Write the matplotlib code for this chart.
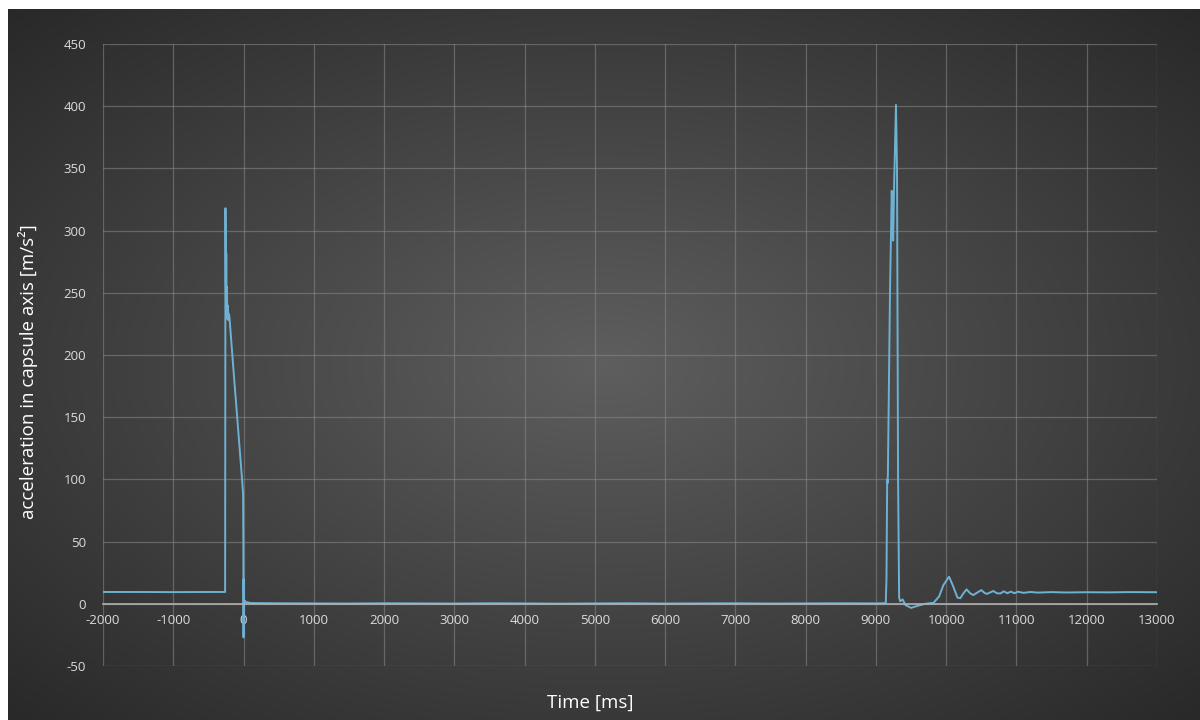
import numpy as np
import matplotlib.pyplot as plt

plt.rcParams['axes.unicode_minus'] = False

# Readings taken off the chart: time [ms] and acceleration [m/s^2]
launch_t = [-2000, -1500, -1000, -500, -262, -257, -253, -249, -246, -243, -240,
            -237, -234, -231, -228, -224, -220, -215, -208, -200, -150, -100,
            -50, -17, -6, -2, 0, 3, 6, 10, 30, 100]
launch_a = [9.5, 9.5, 9.4, 9.5, 9.5, 318, 262, 240, 282, 236, 255,
            233, 246, 229, 240, 231, 236, 228, 233, 230, 193, 157,
            121, 97, 88, 40, -27, 20, -5, 3, 1.5, 0.6]

coast_t = [500, 1000, 1500, 2000, 2500, 3000, 3500, 4000, 4500, 5000, 5500,
           6000, 6500, 7000, 7500, 8000, 8500, 9000, 9140]
coast_a = [0.4, 0.3, 0.2, 0.4, 0.3, 0.2, 0.4, 0.3, 0.1, 0.3, 0.4,
           0.2, 0.3, 0.4, 0.2, 0.3, 0.4, 0.3, 0.5]

landing_t = [9150, 9160, 9165, 9170, 9200, 9225, 9235, 9245, 9260, 9285, 9300,
             9315, 9330, 9345, 9380, 9420, 9500, 9600, 9700, 9820, 9900, 9960,
             10040, 10100, 10160, 10200, 10240, 10290, 10340, 10385, 10440,
             10500, 10540, 10575, 10620, 10670, 10720, 10770, 10820, 10870,
             10920, 10970, 11020, 11100, 11200, 11300, 11500, 11700, 12000,
             12300, 12600, 13000]
landing_a = [20, 100, 97, 104, 250, 332, 310, 292, 340, 401, 350,
             100, 5, 2, 3.5, -1, -3.3, -1.5, 0, 0.8, 6, 15,
             21.8, 14, 5, 4.5, 8, 11.6, 8.5, 7, 9,
             11, 9, 7.9, 9, 10.3, 8.5, 8.3, 10, 8.5,
             9.8, 8.5, 9.7, 8.8, 9.5, 9.0, 9.4, 9.1, 9.3,
             9.2, 9.4, 9.3]

time_ms = np.array(launch_t + coast_t + landing_t)
accel = np.array(launch_a + coast_a + landing_a)

x_ticks = list(range(-2000, 13001, 1000))
y_ticks = list(range(-50, 451, 50))

fig = plt.figure(figsize=(12, 7.2), dpi=100)
fig.patch.set_facecolor('white')

# dark radial gradient background, Excel style
bg = fig.add_axes([8 / 1200, 0, 1192 / 1200, 711 / 720])
gx, gy = np.meshgrid(np.linspace(-1, 1, 400), np.linspace(-1, 1, 240))
r = np.clip(np.sqrt(gx ** 2 + gy ** 2) / np.sqrt(2), 0, 1)
shade = 0.37 - 0.21 * r
bg.imshow(np.dstack([shade, shade, shade]), aspect='auto', extent=[0, 1, 0, 1])
bg.axis('off')

ax = fig.add_axes([103 / 1200, 1 - 666 / 720, 1054 / 1200, 622 / 720])
ax.set_facecolor('none')
ax.plot(time_ms, accel, color='#6fb1d2', lw=1.4)

ax.set_xlim(-2000, 13000)
ax.set_ylim(-50, 450)
ax.set_xticks(x_ticks)
ax.set_yticks(y_ticks)
ax.grid(True, color='#8a8a8a', lw=0.9, alpha=0.55)
ax.set_axisbelow(True)

for side in ['top', 'right', 'left']:
    ax.spines[side].set_visible(False)
ax.spines['bottom'].set_position(('data', 0))
ax.spines['bottom'].set_color('#b0b0b0')
ax.spines['bottom'].set_linewidth(1.2)
ax.tick_params(length=0, colors='#dcdcdc', labelsize=9.5)
ax.tick_params(axis='x', pad=7)
ax.tick_params(axis='y', pad=12)
for lab in ax.get_xticklabels() + ax.get_yticklabels():
    lab.set_family('Open Sans')

fig.text(28 / 1200, 1 - 372 / 720, 'acceleration in capsule axis [m/s²]',
         rotation=90, ha='center', va='center', color='white',
         fontsize=13.5, family='Open Sans')
fig.text(590 / 1200, 1 - 703 / 720, 'Time [ms]', ha='center', va='center',
         color='white', fontsize=13.5, family='Open Sans')

fig.savefig('out.png', dpi=100)
